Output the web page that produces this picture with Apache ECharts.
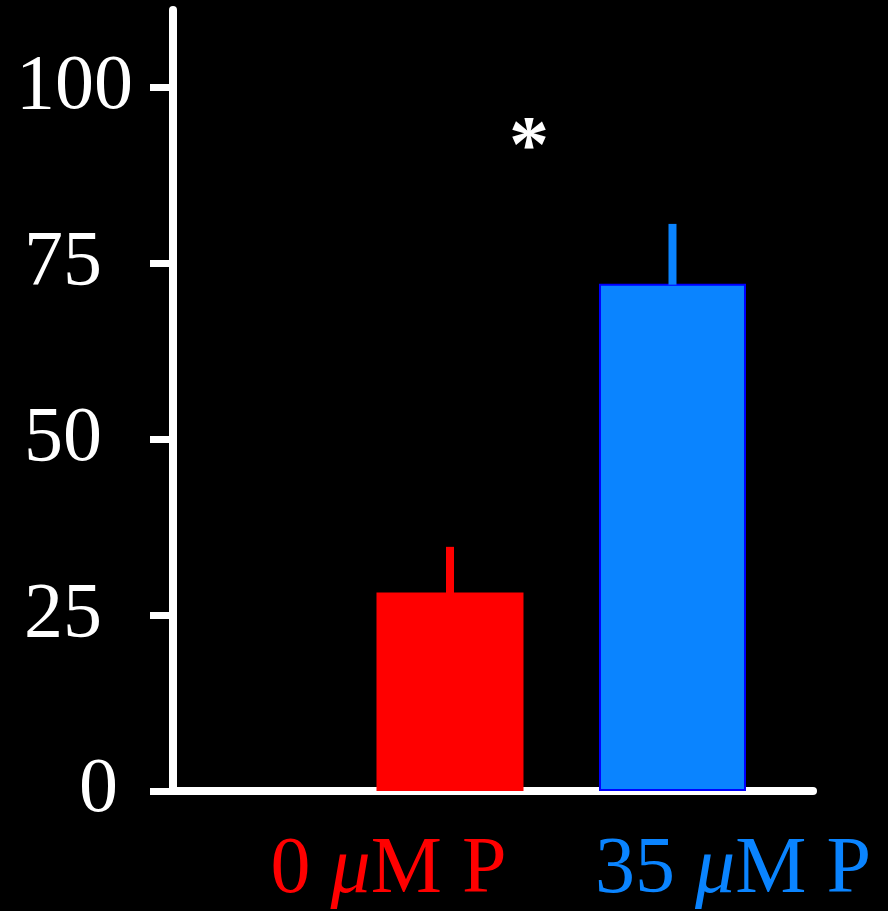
<!DOCTYPE html>
<html>
<head>
<meta charset="utf-8">
<script src="https://cdn.jsdelivr.net/npm/echarts@6/dist/echarts.min.js"></script>
<style>
html,body{margin:0;padding:0;background:#000;}
#chart{width:888px;height:911px;}
</style>
</head>
<body>
<div id="chart"></div>
<script>
// ---- data ----
const categories = ['0 μM P', '35 μM P'];
const catPositions = [1, 2];
const means = [28.2, 72.1];
const errors = [6.5, 8.5];
const barColors = ['#ff0000', '#0a84ff'];
const yTicks = [0, 25, 50, 75, 100];
const sigMarks = [{ x: 1.355, y: 91, text: '*' }];

const FONT = 'Liberation Serif, Times New Roman, serif';
const chart = echarts.init(document.getElementById('chart'), null, { renderer: 'canvas' });

const yLabelStyle = { 100: 'c', 75: 'a', 50: 'a', 25: 'a', 0: 'b' };

const option = {
  backgroundColor: '#000000',
  animation: false,
  grid: { left: 173, right: 75, top: 10, bottom: 120, containLabel: false },
  xAxis: {
    type: 'value',
    min: -0.2449,
    max: 2.6315,
    splitLine: { show: false },
    axisTick: { show: false },
    axisLine: { show: true, onZero: false, lineStyle: { color: '#ffffff', width: 8 } },
    axisLabel: {
      customValues: catPositions,
      margin: 40,
      formatter: function (v) {
        const i = catPositions.indexOf(v);
        if (i < 0) return '';
        const parts = categories[i].split('μ');
        const k = i === 0 ? 'r' : 'b';
        return '{' + k + '0|' + parts[0] + '}{' + k + 'm|μ}{' + k + '1|' + parts[1] + '}';
      },
      rich: {
        r0: { fontFamily: FONT, fontSize: 80, color: barColors[0] },
        rm: { fontFamily: FONT, fontSize: 80, color: barColors[0], fontStyle: 'italic' },
        r1: { fontFamily: FONT, fontSize: 80, color: barColors[0], padding: [0, 123, 0, 0] },
        b0: { fontFamily: FONT, fontSize: 80, color: barColors[1], padding: [0, 0, 0, 121] },
        bm: { fontFamily: FONT, fontSize: 80, color: barColors[1], fontStyle: 'italic' },
        b1: { fontFamily: FONT, fontSize: 80, color: barColors[1] }
      }
    }
  },
  yAxis: {
    type: 'value',
    min: 0,
    max: 111,
    interval: 25,
    splitLine: { show: false },
    axisLine: { show: true, onZero: false, lineStyle: { color: '#ffffff', width: 8 } },
    axisTick: { show: true, customValues: yTicks, length: 23, lineStyle: { color: '#ffffff', width: 7 } },
    axisLabel: {
      customValues: yTicks,
      margin: 40,
      formatter: function (v) { return '{' + yLabelStyle[v] + '|' + v + '}'; },
      rich: {
        a: { fontFamily: FONT, fontSize: 78, color: '#ffffff', padding: [0, 31, 0, 0] },
        b: { fontFamily: FONT, fontSize: 78, color: '#ffffff', padding: [0, 15, 0, 0] },
        c: { fontFamily: FONT, fontSize: 78, color: '#ffffff' }
      }
    }
  },
  series: [
    {
      type: 'bar',
      barWidth: 147,
      data: catPositions.map((x, i) => ({
        value: [x, means[i]],
        itemStyle: i === 1
          ? { color: barColors[i], borderColor: '#0000ff', borderWidth: 2 }
          : { color: barColors[i] }
      })),
      z: 2
    },
    {
      type: 'custom',
      z: 3,
      data: catPositions.map((x, i) => [x, means[i], errors[i], i]),
      renderItem: function (params, api) {
        const x = api.value(0), m = api.value(1), e = api.value(2), idx = api.value(3);
        const p0 = api.coord([x, m]);
        const p1 = api.coord([x, m + e]);
        return {
          type: 'rect',
          shape: { x: p0[0] - 4, y: p1[1], width: 8, height: p0[1] - p1[1] + 1 },
          style: { fill: barColors[idx] }
        };
      }
    },
    {
      type: 'scatter',
      symbolSize: 0,
      z: 4,
      silent: true,
      data: sigMarks.map(s => [s.x, s.y]),
      label: {
        show: true,
        position: 'inside',
        formatter: function (p) { return sigMarks[p.dataIndex].text; },
        fontFamily: FONT,
        fontSize: 80,
        fontWeight: 'bold',
        color: '#ffffff',
        opacity: 1
      }
    }
  ]
};
chart.setOption(option);
</script>
</body>
</html>
